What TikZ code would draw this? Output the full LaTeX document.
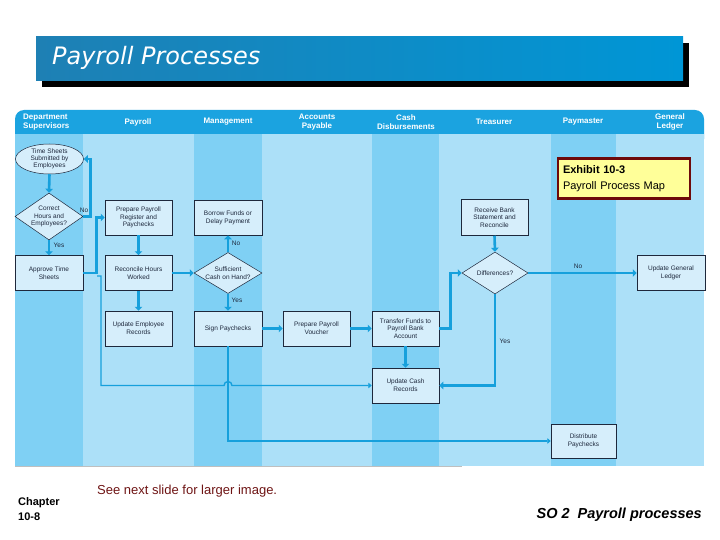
\documentclass[tikz,border=0pt]{standalone}
\usepackage{fontspec}
\setmainfont{Liberation Sans}
\newfontfamily\titlefont{DejaVu Sans}
\usetikzlibrary{arrows.meta,shapes.geometric}
\definecolor{lanedark}{RGB}{127,208,244}
\definecolor{lanelight}{RGB}{172,224,248}
\definecolor{boxfill}{RGB}{214,238,251}
\definecolor{hdr}{RGB}{27,163,224}
\definecolor{flow}{RGB}{22,160,220}
\definecolor{edge}{RGB}{30,40,60}
\definecolor{exfill}{RGB}{255,255,153}
\definecolor{exedge}{RGB}{110,10,10}
\definecolor{notecol}{RGB}{110,20,20}
\definecolor{bannerL}{RGB}{30,128,180}
\definecolor{bannerR}{RGB}{0,150,214}
\tikzset{
 box/.style={rectangle, fill=boxfill, draw=edge, line width=0.5pt, minimum width=67pt, minimum height=35pt, inner sep=1pt, align=center, text=edge, font=\fontsize{6.5}{7.8}\selectfont},
 dia/.style={diamond, fill=boxfill, draw=edge, line width=0.5pt, inner sep=0pt, align=center, text=edge, font=\fontsize{6.5}{7.8}\selectfont},
 flowarrow/.style={draw=flow, line width=2.6pt, -{Triangle[length=4pt,width=7.5pt]}},
 thinarrow/.style={draw=flow, line width=1.4pt, -{Triangle[length=3.5pt,width=5.5pt]}},
 tag/.style={text=edge, font=\fontsize{6.5}{7.8}\selectfont, inner sep=1pt},
 lanehead/.style={text=white, font=\bfseries\fontsize{8}{9}\selectfont, align=center, inner sep=0pt},
}
\begin{document}
\begin{tikzpicture}[x=1pt,y=-1pt]
\useasboundingbox (0,0) rectangle (720,540);
% title banner
\fill[black] (42,43) rectangle (689,87);
\shade[left color=bannerL, right color=bannerR] (36,37) rectangle (683,81);
\node[anchor=west, text=white, font=\titlefont\itshape\fontsize{24}{28}\selectfont, inner sep=0pt] (title) at (52,58) {Payroll Processes};
% header bar and lanes
\fill[hdr, rounded corners=9pt] (15,110) rectangle (704,148);
\fill[lanedark] (15,134) rectangle (83,466);
\fill[lanelight] (83,134) rectangle (194,466);
\fill[lanedark] (194,134) rectangle (262,466);
\fill[lanelight] (262,134) rectangle (372,466);
\fill[lanedark] (372,134) rectangle (439,466);
\fill[lanelight] (439,134) rectangle (551,466);
\fill[lanedark] (551,134) rectangle (616,466);
\fill[lanelight] (616,134) rectangle (704,466);
\draw[black!25, line width=1pt] (15,466.5) -- (462,466.5);
\node[lanehead, anchor=west, align=left] (h1) at (23,122) {Department\\Supervisors};
\node[lanehead] (h2) at (138,122) {Payroll};
\node[lanehead] (h3) at (228,122) {Management};
\node[lanehead] (h4) at (317,122) {Accounts\\Payable};
\node[lanehead] (h5) at (406,122) {Cash\\Disbursements};
\node[lanehead] (h6) at (494,122) {Treasurer};
\node[lanehead] (h7) at (583,122) {Paymaster};
\node[lanehead] (h8) at (670,122) {General\\Ledger};
% nodes
\node[ellipse, fill=boxfill, draw=edge, line width=0.5pt, minimum width=68pt, minimum height=30pt, inner sep=0pt, align=center, text=edge, font=\fontsize{6.5}{7}\selectfont] (e1) at (49.5,159) {Time Sheets\\Submitted by\\Employees};
\node[dia, minimum width=68pt, minimum height=47pt, aspect=1.45] (d1) at (49,216.5) {Correct\\Hours and\\Employees?};
\node[box, minimum width=68pt] (approve) at (49,273) {Approve Time\\Sheets};
\node[box] (prep) at (138.5,217.5) {Prepare Payroll\\Register and\\Paychecks};
\node[box] (recon) at (138.5,273) {Reconcile Hours\\Worked};
\node[box] (updemp) at (138.5,328.5) {Update Employee\\Records};
\node[box, minimum width=68pt] (borrow) at (228,217.5) {Borrow Funds or\\Delay Payment};
\node[dia, minimum width=68pt, minimum height=41pt, aspect=1.66] (d2) at (228,273) {Sufficient\\Cash on Hand?};
\node[box, minimum width=68pt] (sign) at (228,328.5) {Sign Paychecks};
\node[box] (voucher) at (316.5,328.5) {Prepare Payroll\\Voucher};
\node[box] (transfer) at (405.5,328.5) {Transfer Funds to\\Payroll Bank\\Account};
\node[box] (updcash) at (405.5,385.5) {Update Cash\\Records};
\node[box, minimum height=36pt] (receive) at (494.5,217.5) {Receive Bank\\Statement and\\Reconcile};
\node[dia, minimum width=66pt, minimum height=42pt, aspect=1.57] (d3) at (495,273) {Differences?};
\node[box, minimum width=68pt] (genl) at (671,273) {Update General\\Ledger};
\node[box, minimum width=65pt, minimum height=34pt] (distribute) at (583.5,441) {Distribute\\Paychecks};
% connectors
\draw[flowarrow] (e1.south) -- (d1.north);
\draw[flowarrow] (d1.south) -- (approve.north);
\draw[flowarrow] (d1.east) -- ++(7,0) |- (e1.east);
\draw[flowarrow] (approve.east) -| ([xshift=-8pt]prep.west) -- (prep.west);
\draw[flowarrow] (prep.south) -- (recon.north);
\draw[flowarrow] (recon.south) -- (updemp.north);
\draw[flowarrow] (recon.east) -- (d2.west);
\draw[flowarrow] (d2.north) -- (borrow.south);
\draw[flowarrow] (d2.south) -- (sign.north);
\draw[flowarrow] (sign.east) -- (voucher.west);
\draw[flowarrow] (voucher.east) -- (transfer.west);
\draw[flowarrow] (transfer.east) -| ([xshift=-11pt]d3.west) -- (d3.west);
\draw[flowarrow] (transfer.south) -- (updcash.north);
\draw[flowarrow] (receive.south) -- (d3.north);
\draw[flowarrow] (d3.east) -- (genl.west);
\draw[flowarrow] (d3.south) |- (updcash.east);
\coordinate (br) at (97,276);
\draw[thinarrow] (br) -| (101,385.5) -- (224,385.5) arc[start angle=180, end angle=360, radius=4] -- (updcash.west);
\draw[thinarrow] (sign.south) |- (distribute.west);
% labels
\node[tag] (lno1) at (84,210) {No};
\node[tag] (lyes1) at (59,245) {Yes};
\node[tag] (lno2) at (236,243) {No};
\node[tag] (lyes2) at (237,300) {Yes};
\node[tag] (lno3) at (578,266) {No};
\node[tag] (lyes3) at (505,341) {Yes};
% exhibit
\node[rectangle, fill=exfill, draw=exedge, line width=2.5pt, minimum width=132pt, minimum height=40pt, text width=122pt, align=left, inner sep=0pt, font=\fontsize{11}{16}\selectfont] (ex) at (624,178.5) {\textbf{Exhibit 10-3}\\Payroll Process Map};
% footer
\node[anchor=west, font=\bfseries\fontsize{11}{15}\selectfont, align=left, inner sep=0pt] (chap) at (18,509.5) {Chapter\\10-8};
\node[anchor=west, text=notecol, font=\fontsize{13}{15}\selectfont, inner sep=0pt] (note) at (97,491) {See next slide for larger image.};
\node[anchor=east, font=\bfseries\itshape\fontsize{14.5}{17}\selectfont, inner sep=0pt] (so) at (702,515) {SO 2\ \ Payroll processes};
\end{tikzpicture}
\end{document}
